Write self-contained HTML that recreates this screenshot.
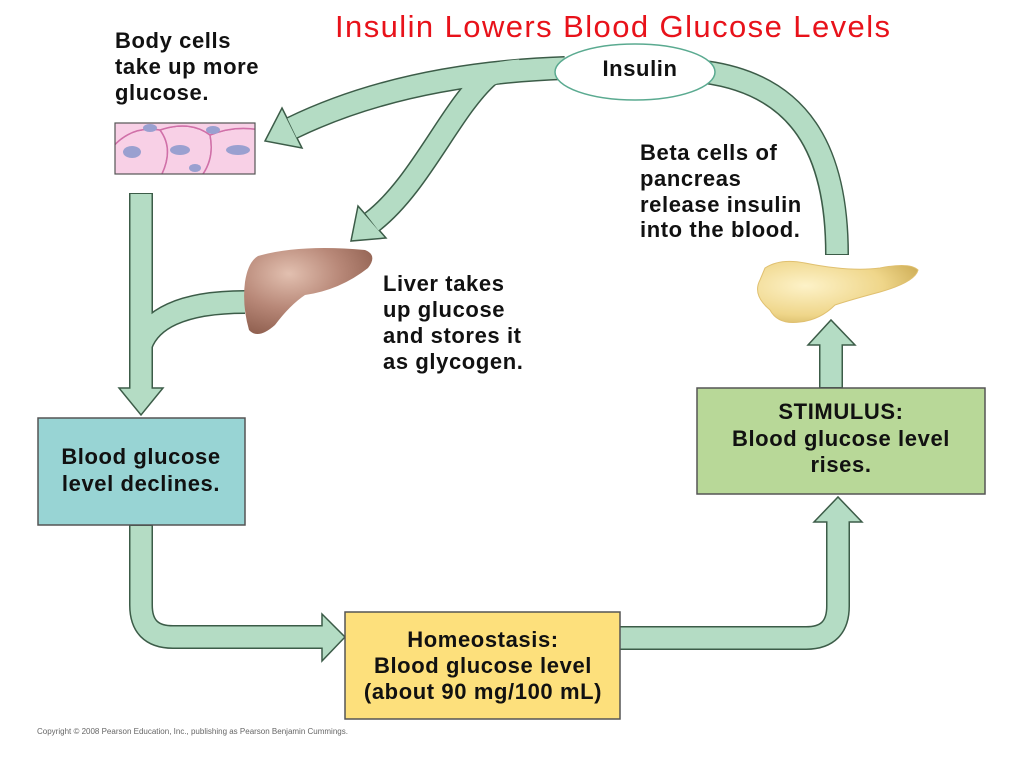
<!DOCTYPE html>
<html><head><meta charset="utf-8"><style>
html,body{margin:0;padding:0;background:#fff}
svg{display:block}
text{font-family:"Liberation Sans",Arial,sans-serif}
.b{font-weight:bold;font-size:22px;fill:#111;letter-spacing:0.6px}
</style></head><body>
<svg width="1024" height="768" viewBox="0 0 1024 768" xmlns="http://www.w3.org/2000/svg">
<defs>
<clipPath id="cc"><rect x="115" y="123" width="140" height="51"/></clipPath>
<radialGradient id="lv" cx="0.35" cy="0.3" r="0.8"><stop offset="0" stop-color="#e2c0b0"/><stop offset="0.5" stop-color="#b88878"/><stop offset="1" stop-color="#8a5a4a"/></radialGradient>
<radialGradient id="pc" cx="0.3" cy="0.4" r="0.8"><stop offset="0" stop-color="#fdf2c8"/><stop offset="0.6" stop-color="#efd68a"/><stop offset="1" stop-color="#c9a850"/></radialGradient>
</defs>

<text x="335" y="37" font-size="31" fill="#e8121a" textLength="555" lengthAdjust="spacing">Insulin Lowers Blood Glucose Levels</text>

<g fill="none" stroke="#3c5c48" stroke-width="24">
<path d="M705,72 C800,85 837,150 837,255"/>
<path d="M565,68 C450,72 360,95 292,128"/>
<path d="M488,76 C450,110 420,185 372,222"/>
<path d="M141,193 L141,389"/>
<path d="M245,302 C180,302 150,320 141,345"/>
<path d="M141,525 L141,605 Q141,637 173,637 L323,637"/>
<path d="M619,638 L806,638 Q838,638 838,606 L838,521"/>
<path d="M831,389 L831,344"/>
</g>
<g fill="#b4dcc4" stroke="#3c5c48" stroke-width="1.5">
<polygon points="282,108 302,148 265,141"/>
<polygon points="358,206 386,238 351,241"/>
<polygon points="119,388 163,388 141,415"/>
<polygon points="322,614 322,661 345,637"/>
<polygon points="814,522 862,522 838,497"/>
<polygon points="808,345 855,345 831,320"/>
</g>
<g fill="none" stroke="#b4dcc4" stroke-width="21">
<path d="M705,72 C800,85 837,150 837,254"/>
<path d="M565,68 C450,72 360,95 292,128"/>
<path d="M488,76 C450,110 420,185 372,222"/>
<path d="M141,194 L141,389"/>
<path d="M245,302 C180,302 150,320 141,345"/>
<path d="M141,526 L141,605 Q141,637 173,637 L323,637"/>
<path d="M619,638 L806,638 Q838,638 838,606 L838,521"/>
<path d="M831,387 L831,344"/>
</g>
<path d="M520,70 Q495,72 488,76" fill="none" stroke="#b4dcc4" stroke-width="21"/>

<ellipse cx="635" cy="72" rx="80" ry="28" fill="#fff" stroke="#5aaa90" stroke-width="1.5"/>
<text x="640" y="76" class="b" text-anchor="middle">Insulin</text>

<g clip-path="url(#cc)">
<rect x="115" y="123" width="140" height="51" fill="#f4c2dc"/>
<g fill="#f8d0e6" stroke="#d070a8" stroke-width="1.5">
<path d="M110,150 Q130,125 160,130 Q175,150 160,178 L110,178Z"/>
<path d="M160,130 Q190,120 210,135 Q215,160 200,178 L160,178 Q175,150 160,130Z"/>
<path d="M210,135 Q235,125 260,130 L260,178 L200,178 Q215,160 210,135Z"/>
<path d="M110,118 L260,118 L260,130 Q235,125 210,135 Q190,120 160,130 Q130,125 110,150Z"/>
</g>
<g fill="#9aa0d0">
<ellipse cx="132" cy="152" rx="9" ry="6"/><ellipse cx="180" cy="150" rx="10" ry="5"/>
<ellipse cx="238" cy="150" rx="12" ry="5"/><ellipse cx="150" cy="128" rx="7" ry="4"/>
<ellipse cx="213" cy="130" rx="7" ry="4"/><ellipse cx="195" cy="168" rx="6" ry="4"/>
</g>
</g>
<rect x="115" y="123" width="140" height="51" fill="none" stroke="#555" stroke-width="1.2"/>
<text class="b"><tspan x="115" y="48">Body cells</tspan><tspan x="115" y="74">take up more</tspan><tspan x="115" y="100">glucose.</tspan></text>

<path d="M258,256 Q300,244 365,250 Q378,255 368,268 Q340,290 305,295 Q290,305 275,325 Q258,340 249,330 Q242,305 245,282 Q248,262 258,256Z" fill="url(#lv)"/>
<text class="b"><tspan x="383" y="291">Liver takes</tspan><tspan x="383" y="317">up glucose</tspan><tspan x="383" y="343">and stores it</tspan><tspan x="383" y="369">as glycogen.</tspan></text>

<text class="b"><tspan x="640" y="160">Beta cells of</tspan><tspan x="640" y="186">pancreas</tspan><tspan x="640" y="212">release insulin</tspan><tspan x="640" y="237">into the blood.</tspan></text>

<path d="M765,268 Q780,258 805,263 Q850,272 880,268 Q910,262 918,270 Q915,282 880,292 Q850,300 835,305 Q820,320 800,322 Q778,325 770,310 Q752,295 760,280Z" fill="url(#pc)" stroke="#e0c070" stroke-width="1"/>

<rect x="697" y="388" width="288" height="106" fill="#b8d898" stroke="#555" stroke-width="1.5"/>
<text class="b" text-anchor="middle"><tspan x="841" y="419">STIMULUS:</tspan><tspan x="841" y="446">Blood glucose level</tspan><tspan x="841" y="472">rises.</tspan></text>

<rect x="38" y="418" width="207" height="107" fill="#98d4d4" stroke="#555" stroke-width="1.5"/>
<text class="b" text-anchor="middle"><tspan x="141" y="464">Blood glucose</tspan><tspan x="141" y="491">level declines.</tspan></text>

<rect x="345" y="612" width="275" height="107" fill="#fde07c" stroke="#555" stroke-width="1.5"/>
<text class="b" text-anchor="middle"><tspan x="483" y="647">Homeostasis:</tspan><tspan x="483" y="673">Blood glucose level</tspan><tspan x="483" y="699">(about 90 mg/100 mL)</tspan></text>

<text x="37" y="734" font-size="8" fill="#666">Copyright © 2008 Pearson Education, Inc., publishing as Pearson Benjamin Cummings.</text>
</svg>
</body></html>
